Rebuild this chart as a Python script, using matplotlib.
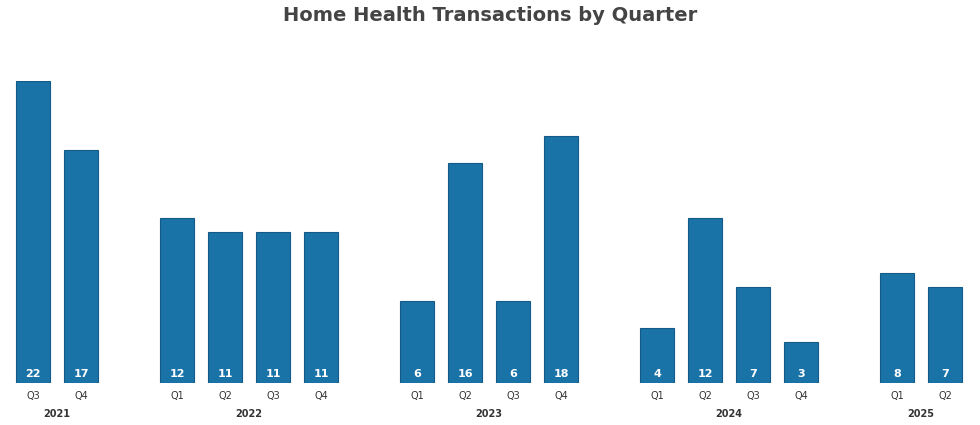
import matplotlib
matplotlib.use("Agg")
import matplotlib.pyplot as plt

years = ["2021", "2022", "2023", "2024", "2025"]
quarters = [["Q3", "Q4"], ["Q1", "Q2", "Q3", "Q4"], ["Q1", "Q2", "Q3", "Q4"], ["Q1", "Q2", "Q3", "Q4"], ["Q1", "Q2"]]
values = [[22, 17], [12, 11, 11, 11], [6, 16, 6, 18], [4, 12, 7, 3], [8, 7]]

fig = plt.figure(figsize=(9.8, 4.25), dpi=100)
ax = fig.add_axes([9/980, 42/425, 960/980, 302/425])

pos = 0
xs, vs, qs, year_centers = [], [], [], []
for y, qlist, vlist in zip(years, quarters, values):
    start = pos
    for q, v in zip(qlist, vlist):
        xs.append(pos); vs.append(v); qs.append(q)
        pos += 1
    year_centers.append((start + pos - 1) / 2)
    pos += 1

ax.bar(xs, vs, width=0.7, color="#1a73a7", edgecolor="#135a86", linewidth=0.8)
for x, v in zip(xs, vs):
    ax.text(x, 0.3, str(v), ha="center", va="bottom", color="white", fontsize=8, fontweight="bold")
for x, q in zip(xs, qs):
    ax.text(x, -0.6, q, ha="center", va="top", fontsize=7, color="#333333")
for c, y in zip(year_centers, years):
    ax.text(c, -1.9, y, ha="center", va="top", fontsize=7, fontweight="bold", color="#333333")

ax.set_xlim(-0.5, 19.5)
ax.set_ylim(0, 22)
ax.axis("off")
fig.suptitle("Home Health Transactions by Quarter", y=0.985, fontsize=14, fontweight="bold", color="#444444")
fig.savefig("out.png", dpi=100)
